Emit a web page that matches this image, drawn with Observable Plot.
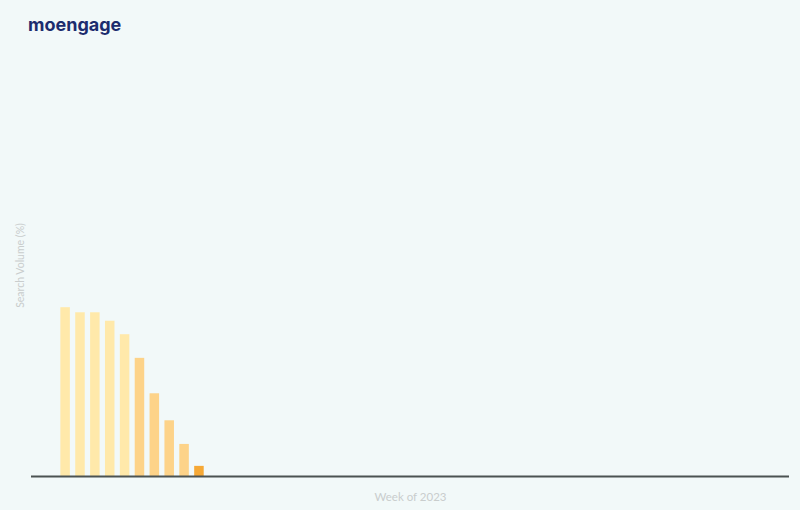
<!DOCTYPE html>
<html>
<head>
<meta charset="utf-8">
<script src="https://cdn.jsdelivr.net/npm/d3@7"></script>
<script src="https://cdn.jsdelivr.net/npm/@observablehq/plot@0.6"></script>
<style>
  html, body { margin: 0; padding: 0; background: #F2F9F9; }
  #wrap { position: relative; width: 800px; height: 510px; overflow: hidden; }
  #logo { position: absolute; left: 28px; top: 14px; font-family: "Inter", sans-serif; font-weight: 700; font-size: 18px; color: #1C2C6E; letter-spacing: 0px; }
  svg { display: block; }
</style>
</head>
<body>
<div id="wrap">
  <div id="logo">moengage</div>
  <div id="chart"></div>
</div>
<script>
const weeks = ["W1", "W2", "W3", "W4", "W5", "W6", "W7", "W8", "W9", "W10"];
const volume = [100, 97, 97, 92, 84, 70, 49, 33, 19, 6];
const xLabel = "Week of 2023";
const yLabel = "Search Volume (%)";

const domainWeeks = d3.range(1, 50).map(i => "W" + i);
const data = weeks.map((w, i) => ({week: w, value: volume[i], idx: i}));
const fillFor = d => d.idx === weeks.length - 1 ? "#F6A936" : (d.idx >= 5 ? "#FDD389" : "#FFE9AA");

const chart = Plot.plot({
  width: 800,
  height: 510,
  marginLeft: 31,
  marginRight: 11,
  marginTop: 54,
  marginBottom: 34,
  style: {background: "transparent", fontFamily: "Lato, sans-serif"},
  x: {type: "band", domain: domainWeeks, padding: 0.36, insetLeft: 24, axis: null},
  y: {domain: [0, 250], axis: null},
  marks: [
    Plot.barY(data, {x: "week", y: "value", fill: fillFor}),
    Plot.ruleY([0], {stroke: "#4B5352", strokeWidth: 2}),
    Plot.text([xLabel], {frameAnchor: "bottom", dy: 24, fill: "#C9CDCD", fontSize: 11.5}),
    Plot.text([yLabel], {frameAnchor: "left", textAnchor: "middle", dx: -11, rotate: -90, fill: "#C9CDCD", fontSize: 10.5})
  ]
});
document.getElementById("chart").appendChild(chart);
</script>
</body>
</html>
